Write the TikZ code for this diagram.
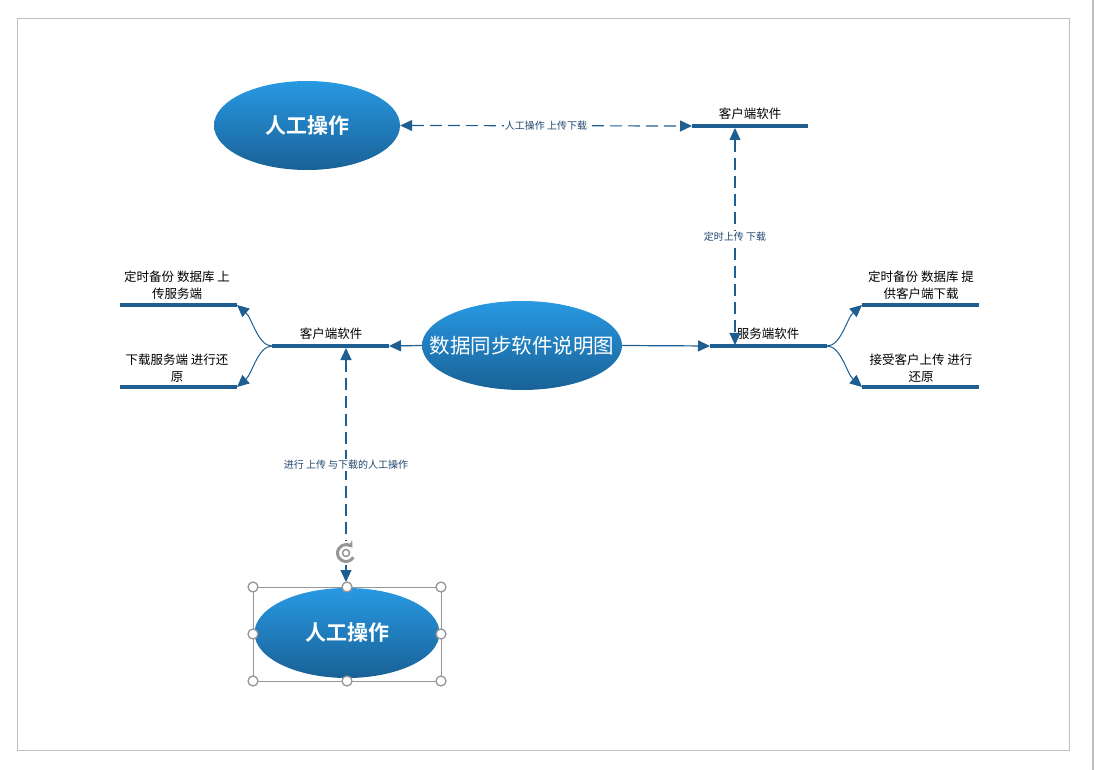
\documentclass[tikz,border=0pt]{standalone}
\usepackage{fontspec}
\setmainfont{Noto Sans CJK SC}[BoldFont={Noto Sans CJK SC Bold}]
\usetikzlibrary{positioning, shapes.geometric, arrows.meta}
\definecolor{linkblue}{RGB}{30,94,145}
\definecolor{topblue}{RGB}{40,153,227}
\definecolor{bottomblue}{RGB}{25,97,150}
\definecolor{labelblue}{RGB}{30,70,110}
\definecolor{framegray}{RGB}{192,192,192}
\definecolor{handlegray}{RGB}{150,150,150}
\tikzset{
    bluenode/.style={
        ellipse,
        top color=topblue, % 上部浅蓝
        bottom color=bottomblue, % 下部深蓝
        draw=none,
        inner sep=0
    },
    whitetext/.style={
        text=white,
        inner sep=0
    },
    barline/.style={
        draw=linkblue,
        line width=3.5pt
    },
    link/.style={
        draw=linkblue,
        line width=1.2pt,
        -{Triangle[length=12pt,width=11pt]}
    },
    dashlink/.style={
        link,
        dash pattern=on 12pt off 6pt,
        {Triangle[length=12pt,width=11pt]}-{Triangle[length=12pt,width=11pt]}
    },
    smalllabel/.style={
        font=\fontsize{10}{12}\selectfont,
        text=labelblue,
        fill=white,
        inner sep=1pt
    },
    barlabel/.style={
        font=\fontsize{12.5}{17}\selectfont,
        align=center,
        inner sep=0
    },
    handle/.style={
        circle,
        draw=handlegray,
        fill=white,
        line width=1.3pt,
        minimum size=10pt,
        inner sep=0
    }
}
\begin{document}
\begin{tikzpicture}[x=1pt, y=-1pt]
    \useasboundingbox (0,0) rectangle (1096,770);
    % 页面边框
    \draw[framegray, line width=1pt] (17,19) rectangle (1069,750);
    \draw[framegray, line width=1.5pt] (1093,0) -- (1093,770);

    % 椭圆节点
    \node[bluenode, minimum width=186pt, minimum height=89pt] (manualtop) at (307,125.5) {};
    \node[whitetext, font=\bfseries\fontsize{21}{24}\selectfont] (manualtoptext) at (manualtop) {人工操作};
    \node[bluenode, minimum width=200pt, minimum height=89pt] (center) at (522,345.5) {};
    \node[whitetext, font=\fontsize{20.5}{24}\selectfont] (centertext) at (center) {数据同步软件说明图};
    \node[bluenode, minimum width=185pt, minimum height=90pt] (manualbottom) at (347,633) {};
    \node[whitetext, font=\bfseries\fontsize{21}{24}\selectfont] (manualbottomtext) at (manualbottom) {人工操作};

    % 横线端点
    \coordinate (clienttopL) at (692,126);
    \coordinate (clienttopR) at (808,126);
    \coordinate (clientL) at (272,346);
    \coordinate (clientR) at (389,346);
    \coordinate (serverL) at (710,346);
    \coordinate (serverR) at (827,346);
    \coordinate (lupL) at (120,305);
    \coordinate (lupR) at (237,305);
    \coordinate (ldownL) at (120,387);
    \coordinate (ldownR) at (237,387);
    \coordinate (rupL) at (862,305);
    \coordinate (rupR) at (979,305);
    \coordinate (rdownL) at (862,387);
    \coordinate (rdownR) at (979,387);
    \coordinate (vtop) at (735,128);
    \coordinate (vbottom) at (735,345);
    \coordinate (ctop) at (346,348);
    \coordinate (cbottom) at (346,582);

    \draw[barline] (clienttopL) -- (clienttopR);
    \draw[barline] (clientL) -- (clientR);
    \draw[barline] (serverL) -- (serverR);
    \draw[barline] (lupL) -- (lupR);
    \draw[barline] (ldownL) -- (ldownR);
    \draw[barline] (rupL) -- (rupR);
    \draw[barline] (rdownL) -- (rdownR);

    % 横线文字
    \node[barlabel] (clienttoptext) at (750,114) {客户端软件};
    \node[barlabel] (clienttext) at (331,334) {客户端软件};
    \node[barlabel] (servertext) at (768,334) {服务端软件};
    \node[barlabel] (luptext) at (177,285) {定时备份 数据库 上\\传服务端};
    \node[barlabel] (ldowntext) at (177,368) {下载服务端 进行还\\原};
    \node[barlabel] (ruptext) at (921,285) {定时备份 数据库 提\\供客户端下载};
    \node[barlabel] (rdowntext) at (921,368) {接受客户上传 进行\\还原};

    % 连线
    \draw[link] (center.west) -- (clientR);
    \draw[link] (center.east) -- (serverL);
    \draw[link, line width=1pt] (clientL) .. controls (258,346) and (252,318) .. (lupR);
    \draw[link, line width=1pt] (clientL) .. controls (258,346) and (252,374) .. (ldownR);
    \draw[link, line width=1pt] (serverR) .. controls (841,346) and (847,318) .. (rupL);
    \draw[link, line width=1pt] (serverR) .. controls (841,346) and (847,374) .. (rdownL);

    % 虚线
    \draw[dashlink] (manualtop.east) -- node[smalllabel] (toptext) {人工操作 上传下载} (clienttopL);
    \draw[dashlink] (vtop) -- node[smalllabel] (righttext) {定时上传 下载} (vbottom);
    \draw[dashlink] (ctop) -- node[smalllabel, pos=0.5] (lefttext) {进行 上传 与下载的人工操作} (cbottom);

    % 选中框
    \draw[handlegray, line width=1pt] (253,587) rectangle (441,681);
    \foreach \hx/\hy in {253/587, 347/587, 441/587, 253/634, 441/634, 253/681, 347/681, 441/681}
        \node[handle] (h-\hx-\hy) at (\hx,\hy) {};
    \node[circle, fill=white, minimum size=24pt, inner sep=0] (rot) at (346,553) {};
    \draw[handlegray, line width=3pt, -{Stealth[length=6pt,width=9pt]}]
        (rot.center) ++(30:8.5) arc[start angle=30, end angle=320, radius=8.5];
    \draw[handlegray, line width=1.5pt] (rot.center) circle[radius=3.5];
\end{tikzpicture}
\end{document}
